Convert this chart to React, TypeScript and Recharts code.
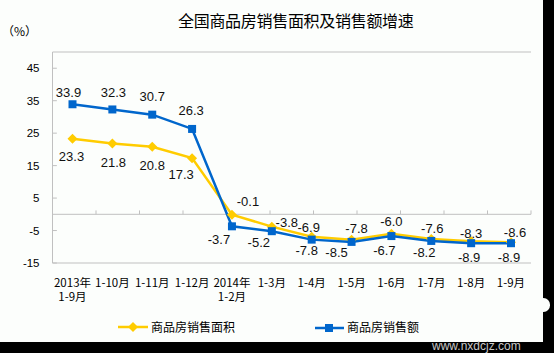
import React from "react";
import { ComposedChart, Line, XAxis, YAxis, ReferenceLine } from "recharts";

const categories = ["2013年\n1-9月", "1-10月", "1-11月", "1-12月", "2014年\n1-2月", "1-3月", "1-4月", "1-5月", "1-6月", "1-7月", "1-8月", "1-9月"];
const areaGrowth = [23.3, 21.8, 20.8, 17.3, -0.1, -3.8, -6.9, -7.8, -6.0, -7.6, -8.3, -8.6];
const salesGrowth = [33.9, 32.3, 30.7, 26.3, -3.7, -5.2, -7.8, -8.5, -6.7, -8.2, -8.9, -8.9];
const yTicks = [-15, -5, 5, 15, 25, 35, 45];
const seriesNames = ["商品房销售面积", "商品房销售额"];
const titleText = "全国商品房销售面积及销售额增速";
const unitText = "（%）";

// layout nudges for data labels (dx, dy) – presentation only
const areaLabelNudge = [[-1, 18], [1, 19], [0, 19], [-11, 16], [16, -13], [15, -4], [-3, -9], [5, -11], [0, -12], [1, -10], [0, -8], [4, -10]];
const salesLabelNudge = [[-4, -12], [1, -17], [0, -18], [-1, -18], [-13, 13], [-13, 11], [-5, 11], [-15, 11], [-7, 14], [-7, 12], [-2, 14], [-2, 14]];

const data = categories.map((c, i) => ({ cat: c, area: areaGrowth[i], sales: salesGrowth[i] }));

const YELLOW = "#ffcc00";
const BLUE = "#0066cc";
const GRID = "#c0c0c0";
const LABEL_FONT = "'Liberation Sans', Arial, sans-serif";
const CJK_FONT = "'Noto Sans CJK SC', sans-serif";

const makeLabel = (nudges: number[][]) => (props: any) => {
  const x = props.x ?? props.viewBox?.x;
  const y = props.y ?? props.viewBox?.y;
  const i = props.index ?? 0;
  const n = nudges[i] || [0, -12];
  const v = Number(props.value);
  return (
    <text
      key={"l" + i}
      x={x + n[0]}
      y={y + n[1]}
      textAnchor="middle"
      dominantBaseline="central"
      fontFamily={LABEL_FONT}
      fontSize={13}
      fill="#111"
    >
      {v.toFixed(1)}
    </text>
  );
};

const diamondDot = (p: any) => {
  const { cx, cy, index } = p;
  const r = 5;
  return <polygon key={"d" + index} points={`${cx},${cy - r} ${cx + r},${cy} ${cx},${cy + r} ${cx - r},${cy}`} fill={YELLOW} />;
};

const squareDot = (p: any) => {
  const { cx, cy, index } = p;
  return <rect key={"s" + index} x={cx - 4} y={cy - 4} width={8} height={8} fill={BLUE} />;
};

const XTick = (props: any) => {
  const { x, y, payload } = props;
  const lines = String(payload.value).split("\n");
  return (
    <g>
      {lines.map((ln, k) => (
        <text key={k} x={x} y={y + 19 + k * 14} textAnchor="middle" dominantBaseline="central" fontFamily={CJK_FONT} fontSize={11.5} fill="#000">
          {ln}
        </text>
      ))}
    </g>
  );
};

const YTick = (props: any) => {
  const { x, y, payload } = props;
  return (
    <text x={x} y={y} textAnchor="end" dominantBaseline="central" fontFamily={LABEL_FONT} fontSize={11.5} fill="#000">
      {payload.value}
    </text>
  );
};

export default function App() {
  return (
    <div style={{ position: "absolute", left: 0, top: 0, width: 554, height: 353, background: "#fcfefc", overflow: "hidden" }}>
      <div style={{ position: "absolute", left: 178, top: 11, fontFamily: CJK_FONT, fontSize: 16, lineHeight: "18px", letterSpacing: -0.3, color: "#000", whiteSpace: "nowrap" }}>
        {titleText}
      </div>
      <div style={{ position: "absolute", left: 2, top: 23, fontFamily: CJK_FONT, fontSize: 12, lineHeight: "16px", color: "#000", whiteSpace: "nowrap" }}>
        {unitText}
      </div>
      <ComposedChart width={554} height={353} data={data} margin={{ top: 52, right: 23, bottom: 60, left: 12.5 }}>
        <XAxis dataKey="cat" xAxisId="c" axisLine={false} tickLine={false} tickSize={0} tickMargin={0} height={30} interval={0} padding={{ left: 20, right: 20 }} tick={<XTick />} />
        <XAxis xAxisId="n" type="number" domain={[0, 12]} hide allowDataOverflow />
        <YAxis
          type="number"
          domain={[-15, 50]}
          ticks={yTicks}
          width={40}
          axisLine={{ stroke: GRID, strokeWidth: 1 }}
          tickLine={false}
          tickSize={0}
          tickMargin={13}
          tick={<YTick />}
          allowDataOverflow
        />
        <ReferenceLine xAxisId="n" y={50} stroke={GRID} strokeWidth={1} />
        <ReferenceLine xAxisId="n" y={-15} stroke={GRID} strokeWidth={1} />
        <ReferenceLine xAxisId="n" segment={[{ x: 12, y: -15 }, { x: 12, y: 50 }]} stroke={GRID} strokeWidth={1} />
        <ReferenceLine xAxisId="n" y={0} stroke={GRID} strokeWidth={1} />
        {categories.slice(1).map((_, k) => (
          <ReferenceLine key={"ct" + k} xAxisId="n" segment={[{ x: k + 1, y: 0 }, { x: k + 1, y: 1.2 }]} stroke={GRID} strokeWidth={1} />
        ))}
        {yTicks.map((t) => (
          <ReferenceLine key={"yt" + t} xAxisId="n" segment={[{ x: 0, y: t }, { x: 0.1, y: t }]} stroke={GRID} strokeWidth={1} />
        ))}
        <Line
          xAxisId="c"
          type="linear"
          dataKey="area"
          name={seriesNames[0]}
          stroke={YELLOW}
          strokeWidth={2.5}
          dot={diamondDot}
          activeDot={false}
          label={makeLabel(areaLabelNudge)}
          isAnimationActive={false}
        />
        <Line
          xAxisId="c"
          type="linear"
          dataKey="sales"
          name={seriesNames[1]}
          stroke={BLUE}
          strokeWidth={2.5}
          dot={squareDot}
          activeDot={false}
          label={makeLabel(salesLabelNudge)}
          isAnimationActive={false}
        />
      </ComposedChart>
      {/* legend */}
      <svg style={{ position: "absolute", left: 116, top: 318 }} width={34} height={18}>
        <line x1={2} y1={9} x2={32} y2={9} stroke={YELLOW} strokeWidth={2.5} />
        <polygon points="17,4 22,9 17,14 12,9" fill={YELLOW} />
      </svg>
      <div style={{ position: "absolute", left: 151, top: 319, fontFamily: CJK_FONT, fontSize: 12, lineHeight: "16px", color: "#000", whiteSpace: "nowrap" }}>
        {seriesNames[0]}
      </div>
      <svg style={{ position: "absolute", left: 313, top: 319 }} width={34} height={18}>
        <line x1={2} y1={9} x2={31} y2={9} stroke={BLUE} strokeWidth={2.5} />
        <rect x={12} y={5} width={8} height={8} fill={BLUE} />
      </svg>
      <div style={{ position: "absolute", left: 347, top: 319, fontFamily: CJK_FONT, fontSize: 12, lineHeight: "16px", color: "#000", whiteSpace: "nowrap" }}>
        {seriesNames[1]}
      </div>
      {/* frame artifacts */}
      <div style={{ position: "absolute", left: 543, top: 0, width: 11, height: 353, background: "#000" }} />
      <div style={{ position: "absolute", left: 0, top: 342, width: 554, height: 11, background: "#000" }} />
      <div style={{ position: "absolute", left: 537, top: 298, width: 13, height: 14, borderRadius: 7, background: "#fcfefc" }} />
      <div style={{ position: "absolute", left: 432, top: 339, fontFamily: LABEL_FONT, fontSize: 12, lineHeight: "14px", color: "#c8c8c8", whiteSpace: "nowrap" }}>
        www.nxdcjz.com
      </div>
    </div>
  );
}
